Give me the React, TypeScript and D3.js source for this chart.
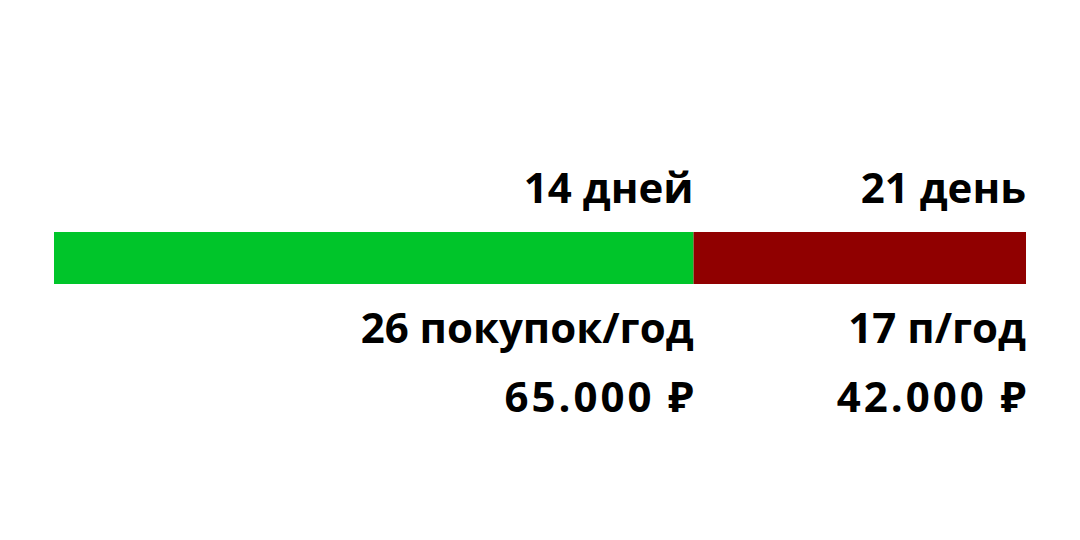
import React, { useEffect, useRef } from "react";
import * as d3 from "d3";

// share of the bar taken by each segment
const segmentShares = [65.8, 34.2];
const segmentColors = ["#00c52a", "#900000"];
const topLabels = ["14 дней", "21 день"];
const purchaseLabels = ["26 покупок/год", "17 п/год"];
const revenueLabels = ["65.000 ₽", "42.000 ₽"];

const App: React.FC = () => {
  const svgRef = useRef<SVGSVGElement>(null);

  useEffect(() => {
    const width = 1080;
    const height = 540;
    const svg = d3.select(svgRef.current);
    svg.selectAll("*").remove();

    const total = d3.sum(segmentShares);
    const x = d3.scaleLinear().domain([0, total]).range([54, 1026]);
    const y = d3.scaleBand().domain(["bar"]).range([232, 284]);

    const ends = d3.cumsum(segmentShares);
    const segments = segmentShares.map((v, i) => ({
      start: ends[i] - v,
      end: ends[i],
      color: segmentColors[i],
      top: topLabels[i],
      mid: purchaseLabels[i],
      bottom: revenueLabels[i],
    }));

    const g = svg.append("g");

    g.selectAll("rect")
      .data(segments)
      .join("rect")
      .attr("x", (d) => x(d.start))
      .attr("y", y("bar")!)
      .attr("width", (d) => x(d.end) - x(d.start))
      .attr("height", y.bandwidth())
      .attr("fill", (d) => d.color);

    const rows: {
      key: "top" | "mid" | "bottom";
      base: number;
      spacing: number;
    }[] = [
      { key: "top", base: 203, spacing: 0 },
      { key: "mid", base: 343, spacing: 0 },
      { key: "bottom", base: 412, spacing: 3 },
    ];

    rows.forEach((row) => {
      g.selectAll(`text.${row.key}`)
        .data(segments)
        .join("text")
        .attr("class", row.key)
        .attr("x", (d) => x(d.end) + row.spacing)
        .attr("y", row.base)
        .attr("text-anchor", "end")
        .attr("font-family", "'Open Sans', 'Noto Sans', sans-serif")
        .attr("font-weight", 700)
        .attr("font-size", 42)
        .attr("letter-spacing", row.spacing)
        .attr("fill", "#000")
        .text((d) => d[row.key]);
    });

    svg.attr("width", width).attr("height", height);
  }, []);

  return (
    <svg
      ref={svgRef}
      width={1080}
      height={540}
      style={{ position: "absolute", left: 0, top: 0, background: "#fff" }}
    ></svg>
  );
};

export default App;
